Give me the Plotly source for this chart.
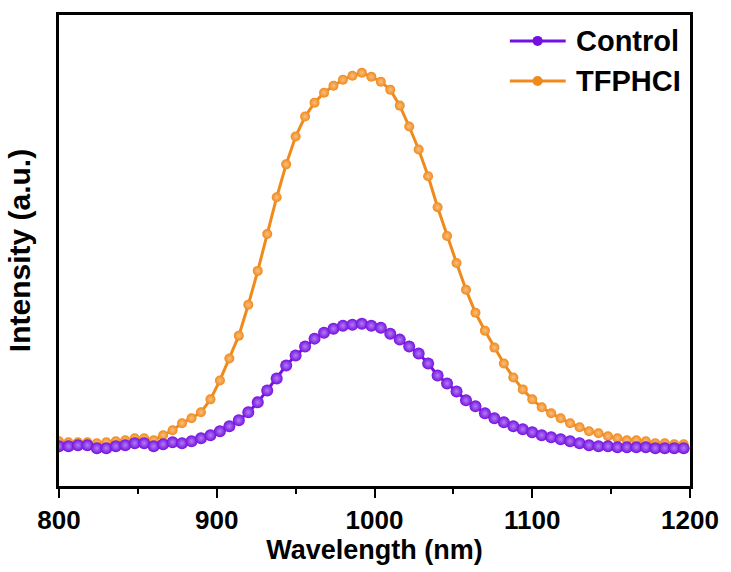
import plotly.graph_objects as go

wavelength = list(range(800, 1200, 6))  # 800 ... 1196 nm

control = [40, 40, 41, 41, 38, 38, 40, 41, 43, 43, 40, 42, 44, 43, 45, 48, 51, 55, 60, 66,
           74, 84, 96, 108, 121, 131, 140, 148, 154, 158, 161, 162, 163, 161, 159, 153, 147,
           140, 133, 123, 111, 103, 95, 86, 80, 73, 68, 64, 60, 57, 54, 51, 49, 47, 45, 43,
           41, 40, 40, 39, 39, 39, 39, 38, 38, 38, 38]

tfphcl = [45, 44, 44, 44, 43, 44, 45, 46, 48, 48, 46, 51, 56, 63, 68, 74, 87, 106, 128, 151,
          182, 216, 253, 290, 323, 351, 371, 385, 395, 402, 408, 412, 415, 411, 406, 398, 382,
          361, 338, 311, 280, 251, 224, 197, 174, 156, 139, 123, 109, 97, 87, 79, 73, 68, 63,
          59, 55, 53, 50, 48, 46, 46, 45, 43, 43, 42, 42]

series_names = ["Control", "TFPHCI"]
x_ticks = [800, 900, 1000, 1100, 1200]

PURPLE = "#7410e0"
PURPLE_LIGHT = "#b27cf5"
ORANGE = "#f08a1c"
ORANGE_LIGHT = "#f9bf80"
FONT = "Liberation Sans, Arial, sans-serif"

fig = go.Figure()

fig.add_trace(go.Scatter(
    x=wavelength, y=tfphcl, mode="lines+markers", name=series_names[1],
    line=dict(color=ORANGE, width=3),
    marker=dict(size=10, color=ORANGE, gradient=dict(type="radial", color=ORANGE_LIGHT),
                line=dict(width=0)),
    showlegend=False,
))
fig.add_trace(go.Scatter(
    x=wavelength, y=control, mode="lines+markers", name=series_names[0],
    line=dict(color=PURPLE, width=3),
    marker=dict(size=12, color=PURPLE, gradient=dict(type="radial", color=PURPLE_LIGHT),
                line=dict(width=0)),
    showlegend=False,
))

# custom legend (paper coordinates)
legend_rows = [(series_names[0], PURPLE, PURPLE_LIGHT, 0.945), (series_names[1], ORANGE, ORANGE_LIGHT, 0.860)]
for name, col, light, yp in legend_rows:
    fig.add_shape(type="line", xref="paper", yref="paper", x0=0.7145, x1=0.803, y0=yp, y1=yp,
                  line=dict(color=col, width=3))
    fig.add_shape(type="circle", xref="paper", yref="paper", xsizemode="pixel", ysizemode="pixel",
                  xanchor=0.7585, yanchor=yp, x0=-5, x1=5, y0=-5, y1=5,
                  fillcolor=col, line=dict(width=0))
    fig.add_annotation(xref="paper", yref="paper", x=0.816, y=yp, text=name, showarrow=False,
                       font=dict(size=29, color="black", family=FONT, weight="bold"),
                       xanchor="left", yanchor="middle")

fig.update_layout(
    width=731, height=572,
    margin=dict(l=59, r=38, t=15, b=84),
    paper_bgcolor="white", plot_bgcolor="white",
    font=dict(family=FONT, color="black"),
)

fig.update_xaxes(
    range=[800, 1200], tickvals=x_ticks, ticktext=[str(v) for v in x_ticks],
    ticks="outside", ticklen=9, tickwidth=2, tickcolor="black",
    minor=dict(dtick=50, ticks="outside", ticklen=5, tickwidth=2, tickcolor="black"),
    showline=True, linecolor="black", linewidth=2.5, mirror=True,
    showgrid=False, zeroline=False,
    tickfont=dict(size=26, family=FONT, weight="bold"),
    title=dict(text="Wavelength (nm)", font=dict(size=27, family=FONT, weight="bold"), standoff=6),
)
fig.update_yaxes(
    range=[0, 473], showticklabels=False, ticks="",
    showline=True, linecolor="black", linewidth=2.5, mirror=True,
    showgrid=False, zeroline=False,
    title=dict(text="Intensity (a.u.)", font=dict(size=30, family=FONT, weight="bold"), standoff=17),
)

fig.write_html("out.html")
